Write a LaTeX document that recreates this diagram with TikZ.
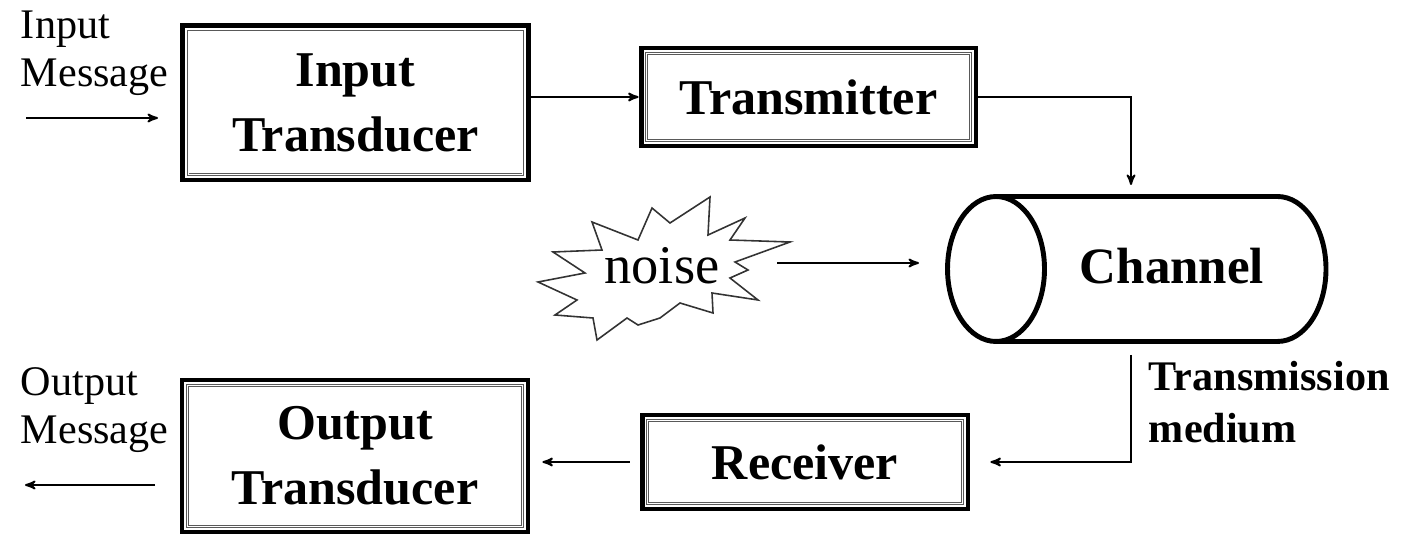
\documentclass[tikz,border=0pt]{standalone}
\usepackage{fontspec}
\setmainfont{Liberation Serif}
\usetikzlibrary{arrows}

\begin{document}
\begin{tikzpicture}[x=0.02cm, y=-0.02cm, ->, >=stealth', line width=1.1pt,
  box/.style={draw, line width=2.8pt, align=center, inner sep=0pt, font=\fontsize{28.5}{37}\selectfont\bfseries},
  frame/.style={-, draw=black!65, double=white, line width=0.45pt, double distance=0.6pt},
  msg/.style={anchor=north west, align=left, inner sep=0pt, font=\fontsize{24}{27}\selectfont}]
\useasboundingbox (0,0) rectangle (1402,536);

\node[box, minimum width=6.92cm, minimum height=3.09cm] (it) at (355.5,102.75) {Input\\Transducer}; % top left block
\node[box, minimum width=6.7cm, minimum height=1.96cm] (tx) at (808.5,97) {Transmitter};
\node[box, minimum width=6.52cm, minimum height=1.88cm] (rx) at (805,462) {Receiver};
\node[box, minimum width=6.92cm, minimum height=3.04cm] (ot) at (355,456) {Output\\Transducer}; % bottom left block

% thin inner lines of the frames
\foreach \b in {it,tx,rx,ot}
  \draw[frame] ([shift={(8,8)}]\b.north west) rectangle ([shift={(-8,-8)}]\b.south east);

% channel drawn as a pipe
\node[font=\fontsize{29}{35}\selectfont\bfseries] (ch) at (1172,266) {Channel};
\draw[-, line width=2.8pt] (996,269) ellipse [x radius=0.97cm, y radius=1.45cm];
\draw[-, line width=2.8pt] (996,196.5) -- (1277.5,196.5) arc[start angle=90, end angle=-90, x radius=0.97cm, y radius=1.45cm] -- (996,341.5);

% noise burst
\draw[-, black!80, line width=0.9pt, line join=miter] (538,282) -- (585,273) -- (553,252) -- (602,250) -- (592,222) -- (638,240) -- (652,208) -- (670,223) -- (710,197) -- (708,235) -- (745,218) -- (730,240) -- (790,242) -- (735,262) -- (748,270) -- (730,278) -- (758,300) -- (712,293) -- (713,313) -- (680,303) -- (660,318) -- (638,325) -- (627,318) -- (597,340) -- (593,318) -- (555,315) -- (577,300) -- cycle;
\node[font=\fontsize{31}{35}\selectfont] (noise) at (662,266) {noise};

\node[msg] (inmsg) at (20,10) {Input\\Message};
\node[msg] (outmsg) at (20,367) {Output\\Message};
\node[msg, font=\fontsize{24}{30}\selectfont\bfseries] (medium) at (1148,360) {Transmission\\medium};

\coordinate (inA) at (26,118);
\coordinate (inB) at (158,118);
\coordinate (outA) at (155,485);
\coordinate (outB) at (25,485);
\coordinate (nzA) at (777,263);
\coordinate (nzB) at (919,263);
\coordinate (chT) at (1131,185);
\coordinate (chB) at (1131,355);

\draw (inA) -- (inB);
\draw (it.east |- tx.west) -- (tx.west);
\draw (tx.east) -| (chT);
\draw (nzA) -- (nzB);
\draw (chB) |- ([xshift=0.4cm]rx.east);
\draw ([xshift=-0.2cm]rx.west) -- ([xshift=0.24cm]ot.east |- rx.west);
\draw (outA) -- (outB);
\end{tikzpicture}
\end{document}
